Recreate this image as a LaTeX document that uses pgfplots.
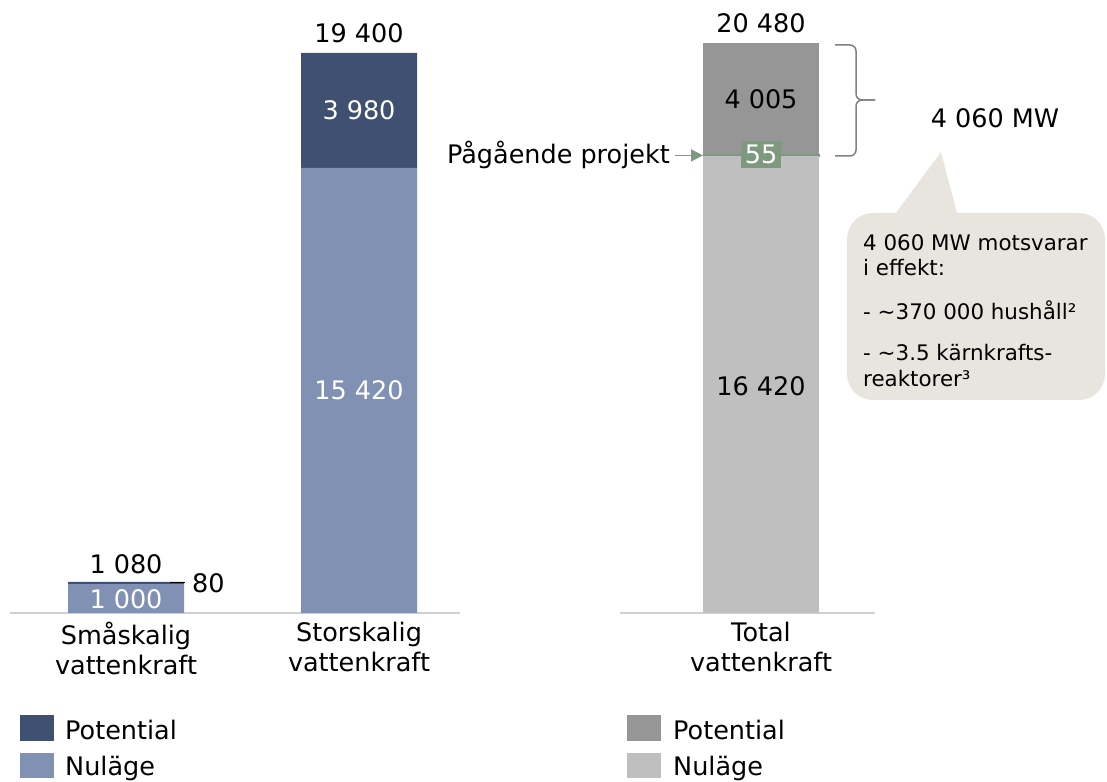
\documentclass[border=0pt]{standalone}
\usepackage{fontspec}
\setmainfont{DejaVu Sans}
\usepackage{pgfplots}
\pgfplotsset{compat=1.18}
\usetikzlibrary{arrows.meta}
\definecolor{potL}{HTML}{3F5070}
\definecolor{nulL}{HTML}{8091B4}
\definecolor{potR}{HTML}{969696}
\definecolor{nulR}{HTML}{BFBFBF}
\definecolor{grn}{HTML}{7E9A7E}
\definecolor{bub}{HTML}{E8E5DE}
\definecolor{basecol}{HTML}{D0D0D0}
\definecolor{bracecol}{HTML}{808080}
\begin{document}
\begin{tikzpicture}[x=1pt,y=1pt,font=\fontsize{25.5}{28}\selectfont]
\path[use as bounding box] (0,0) rectangle (1107,781);
% Left axis
\begin{axis}[
  at={(10pt,168pt)}, anchor=south west,
  scale only axis, width=450pt, height=560pt,
  ybar stacked, bar width=116pt,
  xmin=-0.4979, xmax=1.4335, ymin=0, ymax=19400,
  axis x line=bottom, axis y line=none,
  axis line style={draw=basecol, line width=1.5pt, -},
  xtick={0,1}, major tick length=0pt,
  xticklabels={Småskalig\\vattenkraft, Storskalig\\vattenkraft},
  xticklabel style={align=center, font=\fontsize{25.5}{29.5}\selectfont, text=black, yshift=-6pt},
  clip=false,
]
\addplot[fill=nulL, draw=none] coordinates {(0,1000) (1,15420)};
\addplot[fill=potL, draw=none] coordinates {(0,80) (1,3980)};
\coordinate (a1) at (axis cs:0,485);
\coordinate (a2) at (axis cs:1,7710);
\coordinate (a3) at (axis cs:1,17410);
\coordinate (a4) at (axis cs:1,20090);
\coordinate (a5) at (axis cs:0,1703);
\coordinate (d1) at (axis cs:0.189,1040);
\coordinate (d2) at (axis cs:0.253,1040);
\coordinate (a6) at (axis cs:0.283,1040);
\end{axis}
% Right axis
\begin{axis}[
  at={(620pt,168pt)}, anchor=south west,
  scale only axis, width=255pt, height=570pt,
  ybar stacked, bar width=116pt,
  xmin=-141, xmax=114, ymin=0, ymax=20480,
  axis x line=bottom, axis y line=none,
  axis line style={draw=basecol, line width=1.5pt, -},
  xtick={0}, major tick length=0pt,
  xticklabels={Total\\vattenkraft},
  xticklabel style={align=center, font=\fontsize{25.5}{29.5}\selectfont, text=black, yshift=-6pt},
  clip=false,
]
\addplot[fill=nulR, draw=none] coordinates {(0,16420)};
\addplot[fill=grn, draw=grn, line width=0.8pt] coordinates {(0,55)};
\addplot[fill=potR, draw=none] coordinates {(0,4005)};
\coordinate (b1) at (axis cs:0,8150);
\coordinate (b2) at (axis cs:0,18477);
\coordinate (b3) at (axis cs:0,21199);
\coordinate (b4) at (axis cs:0,16470);
\coordinate (r1) at (axis cs:-86,16440);
\coordinate (r2) at (axis cs:-58,16440);
\coordinate (r3) at (axis cs:-89,16440);
\end{axis}
% Value labels
\node[text=white] at (a1) {1 000};
\node[text=white] at (a2) {15 420};
\node[text=white] at (a3) {3 980};
\node at (a4) {19 400};
\node at (a5) {1 080};
\draw[black, line width=1pt] (d1) -- (d2);
\node[anchor=west, inner sep=0pt] at (a6) {80};
\node at (b1) {16 420};
\node at (b2) {4 005};
\node at (b3) {20 480};
\node[fill=grn, text=white, minimum width=40pt, minimum height=27pt, inner sep=0pt] at (b4) {55};
\draw[grn, line width=1.5pt, -{Triangle[length=12pt,width=12pt]}] (r1) -- (r2);
\node[anchor=east, inner sep=2pt] at (r3) {Pågående projekt};
% Brace
\draw[bracecol, line width=1.5pt, rounded corners=6pt] (835,736) -- (856,736) -- (856,681) -- (875,681);
\draw[bracecol, line width=1.5pt, rounded corners=6pt] (835,625) -- (856,625) -- (856,681) -- (875,681);
\node at (995,663) {4 060 MW};
% Bubble
\fill[bub, rounded corners=26pt] (847,381) rectangle (1105,568);
\fill[bub] (890,560) -- (941,629) -- (959,560) -- cycle;
\begin{scope}[every node/.style={anchor=base west, inner sep=0pt, font=\fontsize{21.4}{24}\selectfont}]
\node at (863,530) {4 060 MW motsvarar};
\node at (863,505) {i effekt:};
\node at (863,461) {- \textasciitilde370 000 hushåll²};
\node at (863,420) {- \textasciitilde3.5 kärnkrafts-};
\node at (863,394) {reaktorer³};
\end{scope}
% Legends
\fill[potL] (20,40) rectangle (54,66);
\fill[nulL] (20,3) rectangle (54,28);
\node[anchor=west, inner sep=0pt] at (65,51) {Potential};
\node[anchor=west, inner sep=0pt] at (65,13) {Nuläge};
\fill[potR] (627,40) rectangle (661,66);
\fill[nulR] (627,3) rectangle (661,28);
\node[anchor=west, inner sep=0pt] at (673,51) {Potential};
\node[anchor=west, inner sep=0pt] at (673,13) {Nuläge};
\end{tikzpicture}
\end{document}
